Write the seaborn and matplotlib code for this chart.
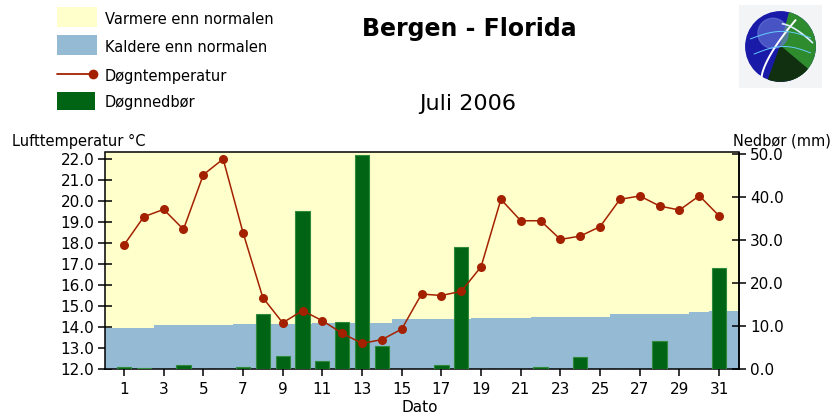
import numpy as np
import matplotlib
matplotlib.use("Agg")
import matplotlib.pyplot as plt
import seaborn as sns
from matplotlib.patches import Rectangle, Circle, Wedge
from matplotlib.lines import Line2D

# ---------------- data ----------------
days = list(range(1, 32))
temperature = [17.9, 19.25, 19.6, 18.65, 21.25, 22.0, 18.5, 15.4, 14.2, 14.78,
               14.3, 13.7, 13.22, 13.4, 13.9, 15.57, 15.5, 15.7, 16.87, 20.08,
               19.06, 19.06, 18.17, 18.33, 18.78, 20.08, 20.24, 19.76, 19.57,
               20.25, 19.29]
precipitation = [0.4, 0.3, 0.0, 0.9, 0.0, 0.0, 0.4, 12.7, 3.1, 36.7,
                 1.9, 11.0, 49.8, 5.3, 0.0, 0.0, 0.9, 28.4, 0.0, 0.0,
                 0.0, 0.5, 0.0, 2.7, 0.0, 0.0, 0.0, 6.6, 0.0, 0.0, 23.6]
normal_temp = [13.97, 13.97, 14.08, 14.08, 14.08, 14.08, 14.15, 14.15, 14.15, 14.15,
               14.2, 14.2, 14.2, 14.2, 14.37, 14.37, 14.37, 14.37, 14.41, 14.41,
               14.41, 14.49, 14.49, 14.49, 14.49, 14.6, 14.6, 14.6, 14.6, 14.7, 14.78]
day_ticks = list(range(1, 32, 2))
temp_ticks = list(range(12, 23))
rain_ticks = [0, 10, 20, 30, 40, 50]

title = "Bergen - Florida"
subtitle = "Juli 2006"
legend_labels = ["Varmere enn normalen", "Kaldere enn normalen", "Døgntemperatur", "Døgnnedbør"]

YELLOW = "#FFFFCC"
BLUE = "#94BBD3"
GREEN = "#006414"
GREEN_EDGE = "#2F8A3C"
RED = "#A32100"

sns.set_style("ticks")
plt.rcParams["font.family"] = ["DejaVu Sans"]
plt.rcParams["text.color"] = "black"
plt.rcParams["axes.labelcolor"] = "black"
plt.rcParams["xtick.color"] = "black"
plt.rcParams["ytick.color"] = "black"
plt.rcParams["axes.edgecolor"] = "black"

W, H = 837, 417
fig = plt.figure(figsize=(W / 100, H / 100), dpi=100)

def fx(px):
    return px / W

def fy(py):
    return 1 - py / H

XLO, XHI = 0.07, 32.0
TLO, THI = 12.0, 22.31
RLO, RHI = 0.0, 50.35

ax = fig.add_axes([fx(105.5), fy(369), fx(739) - fx(105.5), fy(152.5) - fy(369)])
ax.set_facecolor(YELLOW)
edges = [d - 0.5 for d in days] + [days[-1] + 0.5]
edges[0] = XLO
edges[-1] = XHI
ax.stairs(normal_temp, edges, baseline=TLO, fill=True, color=BLUE, linewidth=0)
ax.set_xlim(XLO, XHI)
ax.set_ylim(TLO, THI)
ax.set_yticks(temp_ticks)
ax.set_yticklabels([f"{t:.1f}" for t in temp_ticks])
ax.tick_params(axis="both", direction="inout", length=10, width=1.1, labelsize=11,
               colors="black")
ax.tick_params(axis="x", pad=4)
ax.tick_params(axis="y", pad=3)
for s in ax.spines.values():
    s.set_visible(True)
    s.set_color("black")
    s.set_linewidth(1.1)
ax.set_xlabel("")
ax.set_ylabel("")

# precipitation bars
ax2 = ax.twinx()
sns.barplot(x=days, y=precipitation, native_scale=True, ax=ax2, color=GREEN,
            saturation=1, width=0.72, edgecolor=GREEN_EDGE, linewidth=0.8,
            errorbar=None)
ax2.set_xlim(XLO, XHI)
ax2.set_ylim(RLO, RHI)
ax2.set_yticks(rain_ticks)
ax2.set_yticklabels([f"{r:.1f}" for r in rain_ticks])
ax2.tick_params(axis="y", direction="inout", length=10, width=1.1, labelsize=11,
                pad=3, colors="black")
ax2.set_ylabel("")
ax2.set_xlabel("")
for s in ax2.spines.values():
    s.set_visible(False)
ax2.spines["right"].set_visible(True)
ax2.spines["right"].set_color("black")
ax2.spines["right"].set_linewidth(1.1)

# temperature line
ax3 = ax.twinx()
sns.lineplot(x=days, y=temperature, ax=ax3, color=RED, marker="o", markersize=6.5,
             markeredgewidth=0, linewidth=1.1)
ax3.set_xlim(XLO, XHI)
ax3.set_ylim(TLO, THI)
ax3.set_yticks([])
ax3.set_ylabel("")
for s in ax3.spines.values():
    s.set_visible(False)
ax.set_xticks(day_ticks)
ax.set_xticklabels([str(d) for d in day_ticks])
ax.set_xlim(XLO, XHI)

# axis titles
fig.text(fx(12), fy(141), "Lufttemperatur °C", fontsize=10.5, ha="left", va="center")
fig.text(fx(831), fy(141), "Nedbør (mm)", fontsize=10.5, ha="right", va="center")
fig.text(fx(420), fy(407), "Dato", fontsize=11, ha="center", va="center")

# titles
fig.text(fx(469), fy(29), title, fontsize=17, fontweight="bold", ha="center", va="center")
fig.text(fx(468), fy(104), subtitle, fontsize=16, ha="center", va="center")

# legend (manual)
def rect_px(x0, y0, x1, y1, color):
    fig.add_artist(Rectangle((fx(x0), fy(y1)), fx(x1) - fx(x0), fy(y0) - fy(y1),
                             transform=fig.transFigure, color=color, linewidth=0))

rect_px(57, 7, 97, 27, YELLOW)
rect_px(57, 35, 97, 55, BLUE)
fig.add_artist(Line2D([fx(57), fx(93)], [fy(74), fy(74)], transform=fig.transFigure,
                      color=RED, linewidth=1.3))
fig.add_artist(Line2D([fx(93)], [fy(74)], transform=fig.transFigure, color=RED,
                      marker="o", markersize=7, markeredgewidth=0))
rect_px(57, 92, 95, 110, GREEN)
for yc, lab in zip([20, 47, 76, 103], legend_labels):
    fig.text(fx(105), fy(yc), lab, fontsize=10.5, ha="left", va="center")

# logo (approximation)
lax = fig.add_axes([fx(739), fy(88), fx(822) - fx(739), fy(5) - fy(88)])
lax.set_xlim(-1.1, 1.1)
lax.set_ylim(-1.1, 1.1)
lax.set_aspect("equal")
lax.axis("off")
lax.add_patch(Rectangle((-1.1, -1.1), 2.2, 2.2, color="#F2F4F6", linewidth=0))
lax.add_patch(Circle((0, 0), 0.92, color="#1A1AA8"))
lax.add_patch(Wedge((0, 0), 0.92, -70, 75, color="#2E8B2E"))
lax.add_patch(Wedge((0, 0), 0.92, -110, -40, color="#103010"))
lax.add_patch(Circle((-0.2, 0.35), 0.4, color="#6A7BD8", alpha=0.6))
t = np.linspace(0, 1, 50)
lax.plot(-0.5 + 0.9 * t, -0.8 + 1.5 * t ** 0.7, color="white", lw=1.4)
lax.plot(0.05 + 0.8 * t, 0.6 - 0.5 * t ** 1.5, color="#DDEEFF", lw=1.2)
lax.plot(-0.7 + 1.5 * t, -0.2 + 0.2 * np.sin(3 * t), color="#66CCFF", lw=0.7)
lax.plot(-0.8 + 1.6 * t, 0.2 + 0.2 * np.sin(3 * t), color="#66CCFF", lw=0.7)

fig.savefig("out.png", dpi=100)
